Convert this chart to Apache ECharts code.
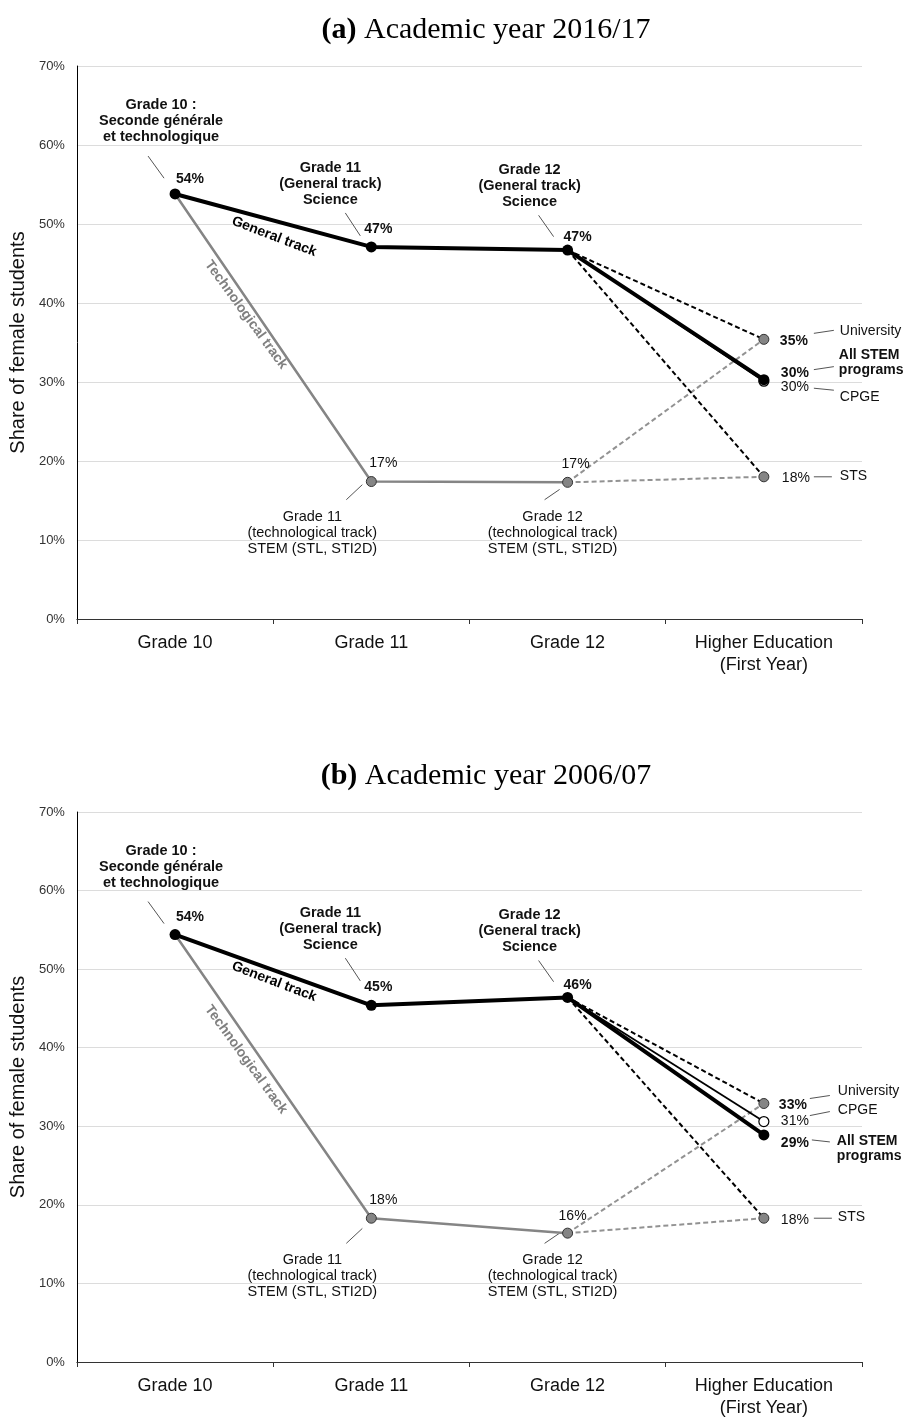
<!DOCTYPE html>
<html>
<head>
<meta charset="utf-8">
<title>Share of female students</title>
<script src="https://cdn.jsdelivr.net/npm/echarts@6/dist/echarts.min.js"></script>
<style>
  html, body { margin: 0; padding: 0; background: #fff; }
  #chart { width: 906px; height: 1419px; }
</style>
</head>
<body>
<div id="chart"></div>
<script>
// x axis categories
var categories = ['Grade 10', 'Grade 11', 'Grade 12', 'Higher Education\n(First Year)'];

// 2016/17 : Grade 10, Grade 11 science, Grade 12 science, all STEM programs
var general2016 = [53.8, 47.1, 46.7, 30.3];
// Grade 10, Grade 11 STEM (STL, STI2D), Grade 12 STEM
var tech2016 = [53.8, 17.4, 17.3];
// first year of higher education : University, CPGE, STS
var higher2016 = [35.4, 30.1, 18.0];

// 2006/07
var general2006 = [54.4, 45.4, 46.4, 28.9];
var tech2006 = [54.4, 18.3, 16.4];
var higher2006 = [32.9, 30.6, 18.3];

var yTicks = [0, 10, 20, 30, 40, 50, 60, 70];

var SANS = '"Liberation Sans", Arial, sans-serif';
var SERIF = '"Liberation Serif", "DejaVu Serif", serif';
var FS = 14;

var panels = [
  {
    title: '{b|(a)} Academic year 2016/17',
    general: general2016, tech: tech2016, higher: higher2016,
    genOff: [[15, -15], [7, -18], [10, -13], [31, -6]],
    techOff: [null, [12, -18], [8, -18]],
    highOff: [[30, 2], [31, 6], [32, 1]],
    names: [
      { val: 'u', text: 'University', dx: 76, dy: -8, line: [50, -6, 70, -9] },
      { val: 's', text: 'All STEM\nprograms', bold: true, dx: 75, dy: -17, line: [50, -10, 70, -13] },
      { val: 'c', text: 'CPGE', dx: 76, dy: 16, line: [50, 7, 70, 9] },
      { val: 't', text: 'STS', dx: 76, dy: -1, line: [50, 0, 68, 0] }
    ]
  },
  {
    title: '{b|(b)} Academic year 2006/07',
    general: general2006, tech: tech2006, higher: higher2006,
    genOff: [[15, -17], [7, -18], [10, -12], [31, 8]],
    techOff: [null, [12, -18], [5, -17]],
    highOff: [[29, 2], [31, 0], [31, 2]],
    names: [
      { val: 'u', text: 'University', dx: 74, dy: -12, line: [46, -5, 66, -8] },
      { val: 'c', text: 'CPGE', dx: 74, dy: -11, line: [46, -6, 66, -10] },
      { val: 's', text: 'All STEM\nprograms', bold: true, dx: 73, dy: 14, line: [48, 5, 66, 7] },
      { val: 't', text: 'STS', dx: 74, dy: -1, line: [50, 0, 68, 0] }
    ]
  }
];

function pctLabel(off, bold) {
  return {
    show: true,
    position: 'inside',
    offset: off,
    formatter: function (p) { return Math.round(p.value) + '%'; },
    fontFamily: SANS,
    fontSize: FS,
    fontWeight: bold ? 'bold' : 'normal',
    color: '#111'
  };
}

var grayDot = { color: '#858585', borderColor: '#333', borderWidth: 1 };

function panelSeries(p, i) {
  var g = p.general, t = p.tech, h = p.higher;
  var base = { type: 'line', xAxisIndex: i, yAxisIndex: i, silent: true, connectNulls: false, symbol: 'circle' };
  var s = [];
  s.push(Object.assign({}, base, {
    name: 'Technological track',
    z: 2,
    symbolSize: 10,
    itemStyle: grayDot,
    lineStyle: { color: '#858585', width: 2.5 },
    data: [
      { value: t[0], symbol: 'none' },
      { value: t[1], label: pctLabel(p.techOff[1]) },
      { value: t[2], label: pctLabel(p.techOff[2]) },
      null
    ]
  }));
  [h[0], h[2]].forEach(function (v) {
    s.push(Object.assign({}, base, {
      z: 2,
      symbol: 'none',
      lineStyle: { color: '#929292', width: 2, type: [5, 3] },
      data: [null, null, t[2], v]
    }));
  });
  // general track -> University / STS (dashed)
  [[h[0], p.highOff[0], true], [h[2], p.highOff[2], false]].forEach(function (d) {
    s.push(Object.assign({}, base, {
      z: 3,
      symbolSize: 10,
      itemStyle: grayDot,
      lineStyle: { color: '#000', width: 2, type: [5, 3] },
      data: [null, null, { value: g[2], symbol: 'none' }, { value: d[0], label: pctLabel(d[1], d[2]) }]
    }));
  });
  // general track -> CPGE
  s.push(Object.assign({}, base, {
    z: 3,
    symbolSize: 10,
    itemStyle: { color: '#fff', borderColor: '#000', borderWidth: 1.2 },
    lineStyle: { color: '#000', width: 1.8 },
    data: [null, null, { value: g[2], symbol: 'none' }, { value: h[1], label: pctLabel(p.highOff[1]) }]
  }));
  s.push(Object.assign({}, base, {
    name: 'General track',
    z: 4,
    symbolSize: 11,
    itemStyle: { color: '#000' },
    lineStyle: { color: '#000', width: 4 },
    data: g.map(function (v, k) { return { value: v, label: pctLabel(p.genOff[k], true) }; })
  }));
  return s;
}

var grids = [], xAxes = [], yAxes = [], titles = [], series = [];
panels.forEach(function (p, i) {
  var top = 66 + i * 746;
  grids.push({ left: 76, right: 44, top: top, height: 553 });
  titles.push({
    text: p.title,
    left: 481,
    top: top - 56,
    textAlign: 'center',
    textStyle: {
      fontFamily: SERIF, fontSize: 30, fontWeight: 'normal', color: '#000',
      rich: { b: { fontFamily: SERIF, fontSize: 30, fontWeight: 'bold', color: '#000' } }
    }
  });
  xAxes.push({
    type: 'category',
    gridIndex: i,
    data: categories,
    axisLine: { lineStyle: { color: '#333', width: 1.2 } },
    axisTick: { show: true, length: 5, lineStyle: { color: '#333' } },
    axisLabel: { fontFamily: SANS, fontSize: 18, color: '#111', margin: 13, lineHeight: 22 }
  });
  yAxes.push({
    type: 'value',
    gridIndex: i,
    min: yTicks[0],
    max: yTicks[yTicks.length - 1],
    interval: yTicks[1] - yTicks[0],
    name: 'Share of female students',
    nameLocation: 'middle',
    nameRotate: 90,
    nameGap: 43,
    nameTextStyle: { fontFamily: SANS, fontSize: 20, color: '#111' },
    axisLine: { show: true, lineStyle: { color: '#000', width: 1 } },
    axisTick: { show: false },
    axisLabel: { formatter: '{value}%', fontFamily: SANS, fontSize: 13, color: '#333', margin: 12 },
    splitLine: { lineStyle: { color: '#dcdcdc', width: 1.2 } }
  });
  series = series.concat(panelSeries(p, i));
});

var chart = echarts.init(document.getElementById('chart'));
chart.setOption({
  animation: false,
  backgroundColor: '#fff',
  title: titles,
  grid: grids,
  xAxis: xAxes,
  yAxis: yAxes,
  series: series
});

// annotations placed in axis coordinates (same spot in both panels)
var notes = [
  { cat: 0, val: 63.0, dx: -14, text: 'Grade 10 :\nSeconde générale\net technologique', bold: true },
  { cat: 1, val: 55.1, dx: -41, text: 'Grade 11\n(General track)\nScience', bold: true },
  { cat: 2, val: 54.8, dx: -38, text: 'Grade 12\n(General track)\nScience', bold: true },
  { cat: 1, val: 10.9, dx: -59, text: 'Grade 11\n(technological track)\nSTEM (STL, STI2D)' },
  { cat: 2, val: 10.9, dx: -15, text: 'Grade 12\n(technological track)\nSTEM (STL, STI2D)' }
];
var leaders = [
  { cat: 0, v1: 58.6, dx1: -27, v2: 55.8, dx2: -11 },
  { cat: 1, v1: 51.4, dx1: -26, v2: 48.5, dx2: -11 },
  { cat: 2, v1: 51.1, dx1: -29, v2: 48.4, dx2: -14 },
  { cat: 1, v1: 15.1, dx1: -25, v2: 17.0, dx2: -9 },
  { cat: 2, v1: 15.1, dx1: -23, v2: 16.4, dx2: -8 }
];

function px(i, cat, val) {
  return chart.convertToPixel({ gridIndex: i }, [cat, val]);
}

var graphics = [];
panels.forEach(function (p, i) {
  notes.forEach(function (n) {
    var c = px(i, n.cat, n.val);
    graphics.push({
      type: 'text', silent: true, x: c[0] + n.dx, y: c[1],
      style: {
        text: n.text, fill: '#111', fontFamily: SANS, fontSize: 14.5,
        fontWeight: n.bold ? 'bold' : 'normal', lineHeight: 16,
        align: 'center', verticalAlign: 'middle'
      }
    });
  });
  leaders.forEach(function (l) {
    var a = px(i, l.cat, l.v1), b = px(i, l.cat, l.v2);
    graphics.push({
      type: 'line', silent: true,
      shape: { x1: a[0] + l.dx1, y1: a[1], x2: b[0] + l.dx2, y2: b[1] },
      style: { stroke: '#555', lineWidth: 1 }
    });
  });
  var gt = px(i, 0, 48.4);
  graphics.push({
    type: 'text', silent: true, x: gt[0] + 99, y: gt[1], rotation: -21 * Math.PI / 180,
    style: { text: 'General track', fill: '#000', fontFamily: SANS, fontSize: FS, fontWeight: 'bold', align: 'center', verticalAlign: 'middle' }
  });
  var tt = px(i, 0, 38.5);
  graphics.push({
    type: 'text', silent: true, x: tt[0] + 71, y: tt[1], rotation: -54 * Math.PI / 180,
    style: { text: 'Technological track', fill: '#808080', fontFamily: SANS, fontSize: FS, fontWeight: 'bold', align: 'center', verticalAlign: 'middle' }
  });
  // names of the higher education programs, next to their points
  var endVal = { u: p.higher[0], c: p.higher[1], t: p.higher[2], s: p.general[3] };
  p.names.forEach(function (n) {
    var c = px(i, 3, endVal[n.val]);
    graphics.push({
      type: 'line', silent: true,
      shape: { x1: c[0] + n.line[0], y1: c[1] + n.line[1], x2: c[0] + n.line[2], y2: c[1] + n.line[3] },
      style: { stroke: '#555', lineWidth: 1 }
    });
    graphics.push({
      type: 'text', silent: true, x: c[0] + n.dx, y: c[1] + n.dy,
      style: {
        text: n.text, fill: '#111', fontFamily: SANS, fontSize: FS,
        fontWeight: n.bold ? 'bold' : 'normal', lineHeight: 15,
        align: 'left', verticalAlign: 'middle'
      }
    });
  });
});
chart.setOption({ graphic: graphics });
</script>
</body>
</html>
